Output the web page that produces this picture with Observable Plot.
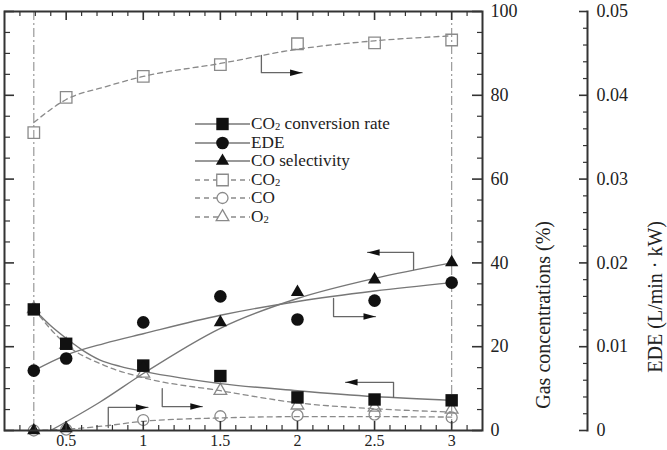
<!DOCTYPE html>
<html><head><meta charset="utf-8">
<script src="https://cdn.jsdelivr.net/npm/d3@7"></script>
<script src="https://cdn.jsdelivr.net/npm/@observablehq/plot@0.6"></script>
<style>
html,body{margin:0;padding:0;background:#fff;overflow:hidden}
#wrap{position:relative;width:667px;height:450px;font-family:"Liberation Serif","Times New Roman",serif}
#legend{position:absolute;left:195px;top:114.7px}
.row{display:flex;align-items:center;height:18.6px;font-size:17.2px;color:#222;white-space:nowrap}
.row svg{flex:none}
.row span{display:inline-block;height:14px;line-height:14px;overflow:visible}
sub{font-size:0.62em;vertical-align:-1px;line-height:0}
</style></head><body><div id="wrap"><div id="legend"></div></div>
<script>
// ---- data ----
const xs = [0.29, 0.5, 1, 1.5, 2, 2.5, 3];
const co2Conversion = [28.9, 20.7, 15.5, 13.0, 7.9, 7.4, 7.2];
const edeValues = [0.00715, 0.0086, 0.0129, 0.0160, 0.01325, 0.0155, 0.01765];
const coSelectivity = [0, 0.5, 15, 25.8, 33, 36, 40.1];
const co2Gas = [71.1, 79.5, 84.5, 87.3, 92.3, 92.5, 93.2];
const coGas = [0, 0.2, 2.5, 3.4, 3.6, 3.8, 3.1];
const o2Gas = [29, 20.5, 13.6, 9.5, 6.0, 5.5, 5.0];

// fitted curves
const co2ConvFitX = [0.29, 0.4, 0.5, 0.6, 0.72, 0.85, 1, 1.25, 1.5, 2, 2.5, 3];
const co2ConvFitY = [29, 25, 22, 19.3, 16.8, 15.3, 14.1, 12.5, 11.2, 9.5, 8.1, 7.2];
const edeFitX = [0.29, 0.5, 0.75, 1, 1.5, 2, 2.5, 3];
const edeFitY = [0.00715, 0.0090, 0.0104, 0.01155, 0.01375, 0.0154, 0.01665, 0.01765];
const coSelFitX = [0.4, 0.72, 1, 1.5, 2, 2.5, 3];
const coSelFitY = [0, 6.8, 13.6, 24.4, 31.5, 36.3, 40];
const co2GasFitX = [0.29, 0.5, 0.75, 1, 1.5, 2, 2.5, 3];
const co2GasFitY = [73.5, 79, 82, 84.5, 87.6, 91, 93, 94.2];
const coGasFitX = [0.29, 0.5, 0.75, 1, 1.5, 2, 2.5, 3];
const coGasFitY = [0, 0.3, 1.1, 2.2, 3.0, 3.3, 3.3, 3.2];
const o2GasFitX = [0.29, 0.5, 0.75, 1, 1.5, 2, 2.5, 3];
const o2GasFitY = [29, 20.5, 15.5, 12.6, 9.5, 6.6, 5.2, 4.4];

// axis-pointing arrows: [x, y] start, corner, tip
const arrowPaths = [
  [[1.766, 89.5], [1.766, 85.4], [2.03, 85.4]],
  [[2.753, 38.4], [2.753, 42.5], [2.455, 42.5]],
  [[2.234, 31.5], [2.234, 27.2], [2.506, 27.2]],
  [[2.623, 7.9], [2.623, 11.5], [2.312, 11.5]],
  [[1.123, 10.0], [1.123, 5.7], [1.383, 5.7]],
  [[0.773, 0.7], [0.773, 5.5], [1.03, 5.5]]
];

// ticks and labels
const xMajor = [0.5, 1, 1.5, 2, 2.5, 3];
const xLabels = ["0.5", "1", "1.5", "2", "2.5", "3"];
const gasMajor = [0, 20, 40, 60, 80, 100];
const gasLabels = ["0", "20", "40", "60", "80", "100"];
const edeMajor = [0, 0.01, 0.02, 0.03, 0.04, 0.05];
const edeLabels = ["0", "0.01", "0.02", "0.03", "0.04", "0.05"];
const gasTitle = "Gas concentrations (%)";
const edeTitle = "EDE (L/min \u00b7 kW)";

const legendItems = [
  {html: "CO<sub>2</sub> conversion rate", sym: "square", filled: true},
  {html: "EDE", sym: "circle", filled: true},
  {html: "CO selectivity", sym: "triangle", filled: true},
  {html: "CO<sub>2</sub>", sym: "square", filled: false},
  {html: "CO", sym: "circle", filled: false},
  {html: "O<sub>2</sub>", sym: "triangle", filled: false}
];

// ---- layout ----
const W = 667, H = 450, mL = 4, mR = 185, mT = 11, mB = 20;
const frameW = W - mL - mR, frameH = H - mT - mB;
const xDomain = [0.1, 3.2];
const gasMax = gasMajor[gasMajor.length - 1];
const edeMax = edeMajor[edeMajor.length - 1];
const edeToY = v => v / edeMax * gasMax;
const xMinor = d3.range(2, 32).map(i => i / 10).filter(v => !xMajor.some(m => Math.abs(m - v) < 1e-9));
const gasMinor = d3.range(0, 101, 5).filter(v => v % 20 !== 0);
const edeMinor = d3.range(0, 51, 2).filter(v => v % 10 !== 0).map(v => v / 1000);

const pts = (ys) => xs.map((x, i) => ({x, y: ys[i]}));
const fit = (fx, fy) => fx.map((x, i) => ({x, y: fy[i]}));

const axisColor = "#333";
const fitColor = "#777";
const openColor = "#8a8a8a";
const ink = "#111";

const arrowRows = arrowPaths.flatMap((p, k) => p.map(([x, y]) => ({k, x, y})));
const tips = arrowPaths.map(p => ({x: p[2][0], y: p[2][1], dir: Math.sign(p[2][0] - p[1][0])}));
const arrowRight = {draw(ctx, size) { const r = Math.sqrt(size / Math.PI); ctx.moveTo(0, 0); ctx.lineTo(-2.4 * r, -0.65 * r); ctx.lineTo(-2.4 * r, 0.65 * r); ctx.closePath(); }};
const arrowLeft = {draw(ctx, size) { const r = Math.sqrt(size / Math.PI); ctx.moveTo(0, 0); ctx.lineTo(2.4 * r, -0.65 * r); ctx.lineTo(2.4 * r, 0.65 * r); ctx.closePath(); }};

const sizes = {square: 7, circle: 6.3, triangle: 4.9};
const openSizes = {square: 6.5, circle: 5.5, triangle: 4.7};

const chart = Plot.plot({
  width: W, height: H,
  marginLeft: mL, marginRight: mR, marginTop: mT, marginBottom: mB,
  style: {fontFamily: "'Liberation Serif', 'Times New Roman', serif", background: "#fff", color: "#222"},
  x: {domain: xDomain, axis: null},
  y: {domain: [0, gasMax], axis: null},
  marks: [
    // dash-dot reference lines
    Plot.ruleX([xs[0], xs[xs.length - 1]], {x: d => d, stroke: "#999", strokeWidth: 1.2, strokeDasharray: "9,3,2,3"}),
    // dashed gas fits
    Plot.line(fit(co2GasFitX, co2GasFitY), {x: "x", y: "y", curve: "monotone-x", stroke: openColor, strokeWidth: 1.3, strokeDasharray: "5,4"}),
    Plot.line(fit(coGasFitX, coGasFitY), {x: "x", y: "y", curve: "monotone-x", stroke: openColor, strokeWidth: 1.3, strokeDasharray: "5,4"}),
    Plot.line(fit(o2GasFitX, o2GasFitY), {x: "x", y: "y", curve: "monotone-x", stroke: openColor, strokeWidth: 1.3, strokeDasharray: "5,4"}),
    // open markers
    Plot.dot(pts(co2Gas), {x: "x", y: "y", symbol: "square", r: openSizes.square, fill: "none", stroke: openColor, strokeWidth: 1.3}),
    Plot.dot(pts(coGas), {x: "x", y: "y", symbol: "circle", r: openSizes.circle, fill: "none", stroke: openColor, strokeWidth: 1.3}),
    Plot.dot(pts(o2Gas), {x: "x", y: "y", symbol: "triangle", r: openSizes.triangle, fill: "none", stroke: openColor, strokeWidth: 1.3}),
    // solid fits
    Plot.line(fit(co2ConvFitX, co2ConvFitY), {x: "x", y: "y", curve: "monotone-x", stroke: fitColor, strokeWidth: 1.4}),
    Plot.line(fit(edeFitX, edeFitY), {x: "x", y: d => edeToY(d.y), curve: "monotone-x", stroke: fitColor, strokeWidth: 1.4}),
    Plot.line(fit(coSelFitX, coSelFitY), {x: "x", y: "y", curve: "monotone-x", stroke: fitColor, strokeWidth: 1.4}),
    // filled markers
    Plot.dot(pts(co2Conversion), {x: "x", y: "y", symbol: "square", r: sizes.square, fill: ink}),
    Plot.dot(pts(edeValues), {x: "x", y: d => edeToY(d.y), symbol: "circle", r: sizes.circle, fill: ink}),
    Plot.dot(pts(coSelectivity), {x: "x", y: "y", symbol: "triangle", r: sizes.triangle, fill: ink}),
    // arrows
    Plot.line(arrowRows, {x: "x", y: "y", z: "k", stroke: "#666", strokeWidth: 1.3, curve: "linear"}),
    Plot.dot(tips.filter(d => d.dir > 0), {x: "x", y: "y", symbol: arrowRight, r: 5, fill: ink, stroke: "none"}),
    Plot.dot(tips.filter(d => d.dir < 0), {x: "x", y: "y", symbol: arrowLeft, r: 5, fill: ink, stroke: "none"}),
    // frame
    Plot.frame({stroke: axisColor, strokeWidth: 2}),
    // x ticks bottom & top
    Plot.tickX(xMajor, {x: d => d, insetTop: frameH - 9, stroke: axisColor, strokeWidth: 1.6}),
    Plot.tickX(xMinor, {x: d => d, insetTop: frameH - 5, stroke: axisColor, strokeWidth: 1.2}),
    Plot.tickX(xMajor, {x: d => d, insetBottom: frameH - 9, stroke: axisColor, strokeWidth: 1.6}),
    Plot.tickX(xMinor, {x: d => d, insetBottom: frameH - 5, stroke: axisColor, strokeWidth: 1.2}),
    // left ticks
    Plot.tickY(gasMajor, {y: d => d, insetRight: frameW - 10, stroke: axisColor, strokeWidth: 1.6}),
    Plot.tickY(gasMinor, {y: d => d, insetRight: frameW - 6, stroke: axisColor, strokeWidth: 1.2}),
    // right gas axis ticks
    Plot.tickY(gasMajor, {y: d => d, insetLeft: frameW - 10, stroke: axisColor, strokeWidth: 1.6}),
    Plot.tickY(gasMinor, {y: d => d, insetLeft: frameW - 5, stroke: axisColor, strokeWidth: 1.2}),
    Plot.text(gasMajor, {y: d => d, text: (d, i) => gasLabels[i], frameAnchor: "right", textAnchor: "start", dx: 8, fontSize: 18, fill: "#222"}),
    // EDE axis
    Plot.frame({anchor: "right", dx: 105, stroke: axisColor, strokeWidth: 2}),
    Plot.tickY(edeMajor, {y: d => edeToY(d), insetLeft: frameW - 8, dx: 105, stroke: axisColor, strokeWidth: 1.6}),
    Plot.tickY(edeMinor, {y: d => edeToY(d), insetLeft: frameW - 4, dx: 105, stroke: axisColor, strokeWidth: 1.2}),
    Plot.text(edeMajor, {y: d => edeToY(d), text: (d, i) => edeLabels[i], frameAnchor: "right", textAnchor: "start", dx: 114, fontSize: 18, fill: "#222"}),
    // x labels
    Plot.text(xMajor, {x: d => d, text: (d, i) => xLabels[i], frameAnchor: "bottom", lineAnchor: "top", dy: 4, fontSize: 16, fill: "#222"}),
    // titles
    Plot.text([gasTitle], {text: d => d, frameAnchor: "right", rotate: -90, dx: 61, fontSize: 20, fill: "#222"}),
    Plot.text([edeTitle], {text: d => d, frameAnchor: "right", rotate: -90, dx: 173, fontSize: 20, fill: "#222"})
  ]
});
const wrap = document.getElementById("wrap");
wrap.insertBefore(chart, wrap.firstChild);

// legend
const legend = document.getElementById("legend");
const symType = {square: d3.symbolSquare, circle: d3.symbolCircle, triangle: d3.symbolTriangle};
for (const item of legendItems) {
  const row = document.createElement("div");
  row.className = "row";
  const r = item.filled ? sizes[item.sym] : openSizes[item.sym];
  const path = d3.symbol().type(symType[item.sym]).size(Math.PI * r * r)();
  const line = item.filled
    ? `<line x1="0" x2="55" y1="9" y2="9" stroke="${fitColor}" stroke-width="1.4"/>`
    : `<line x1="0" x2="55" y1="9" y2="9" stroke="${openColor}" stroke-width="1.3" stroke-dasharray="5,4"/>`;
  const mark = item.filled
    ? `<path d="${path}" transform="translate(27.5,9)" fill="${ink}"/>`
    : `<path d="${path}" transform="translate(27.5,9)" fill="#fff" stroke="${openColor}" stroke-width="1.3"/>`;
  row.innerHTML = `<svg width="56" height="18" viewBox="0 0 56 18">${line}${mark}</svg><span>${item.html}</span>`;
  legend.appendChild(row);
}
</script></body></html>
